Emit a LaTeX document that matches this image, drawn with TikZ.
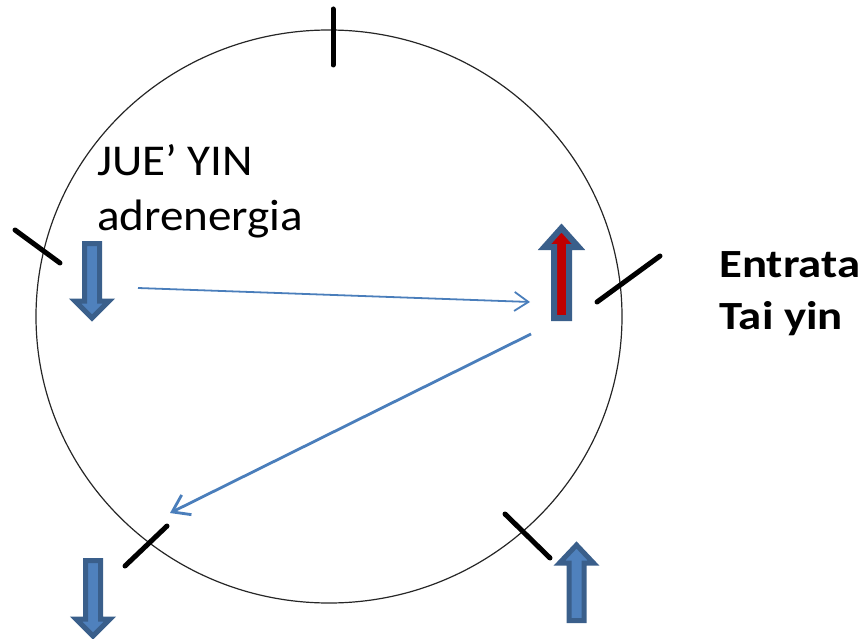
\documentclass[tikz,border=0pt]{standalone}
\usepackage{fontspec}
\setmainfont{Carlito}
\usetikzlibrary{arrows.meta}
\definecolor{blfill}{HTML}{4F81BD}
\definecolor{blborder}{HTML}{3A5F8B}
\definecolor{redfill}{HTML}{C00000}
\definecolor{conn}{HTML}{4A7EBB}
\tikzset{
  ring/.style={draw=black!85, line width=1.2pt},
  tick/.style={draw=black, line width=5pt, line cap=round},
  blk/.style={draw=blborder, fill=blfill, line width=5pt, line join=miter},
  blkred/.style={draw=blborder, fill=redfill, line width=6pt, line join=miter},
  conn/.style={draw=conn},
  lbl/.style={font=\fontsize{44}{55}\selectfont, inner sep=0pt, anchor=base west, xscale=1.07},
  lblb/.style={font=\bfseries\fontsize{40}{49}\selectfont, inner sep=0pt, anchor=base west, xscale=1.17},
}
% #1 centre x, #2 tail y, #3 head base y, #4 tip y, #5 style
\newcommand\blockarr[5]{%
  \draw[#5] ({#1-7.5},#2) -- ({#1+7.5},#2) -- ({#1+7.5},#3) -- ({#1+17},#3)
    -- (#1,#4) -- ({#1-17},#3) -- ({#1-7.5},#3) -- cycle;}
\begin{document}
\begin{tikzpicture}[x=1pt,y=-1pt]
\useasboundingbox (0,0) rectangle (867,639);
% circle
\draw[ring] (329,316.5) ellipse [x radius=293, y radius=286.5];
% ticks
\draw[tick] (333,9) -- (333,65);
\draw[tick] (15,230) -- (60,263);
\draw[tick] (597,302) -- (660,256);
\draw[tick] (125,566) -- (167,526);
\draw[tick] (505,514) -- (550,558);
% block arrows
\blockarr{92}{243.5}{301}{318}{blk}
\blockarr{561.5}{318}{247}{228}{blkred}
\blockarr{93}{560.5}{619}{636}{blk}
\blockarr{576.5}{620.5}{563}{545}{blk}
% labels
\node[lbl] (jue) at (97,175.5) {JUE’ YIN};
\node[lbl] (adr) at (97,230) {adrenergia};
\node[lblb] (entr) at (719,277.5) {Entrata};
\node[lblb] (tai) at (719,329.5) {Tai yin};
% connectors
\coordinate (a1s) at (138,288);
\coordinate (a1e) at (530,302);
\coordinate (a2s) at (531,334);
\coordinate (a2e) at (170,513);
\draw[conn, line width=1.8pt, -{Straight Barb[length=14pt,width=19pt,line width=1.8pt]}] (a1s) -- (a1e);
\draw[conn, line width=2.8pt, -{Straight Barb[length=16pt,width=22pt,line width=2.8pt]}] (a2s) -- (a2e);
\end{tikzpicture}
\end{document}
